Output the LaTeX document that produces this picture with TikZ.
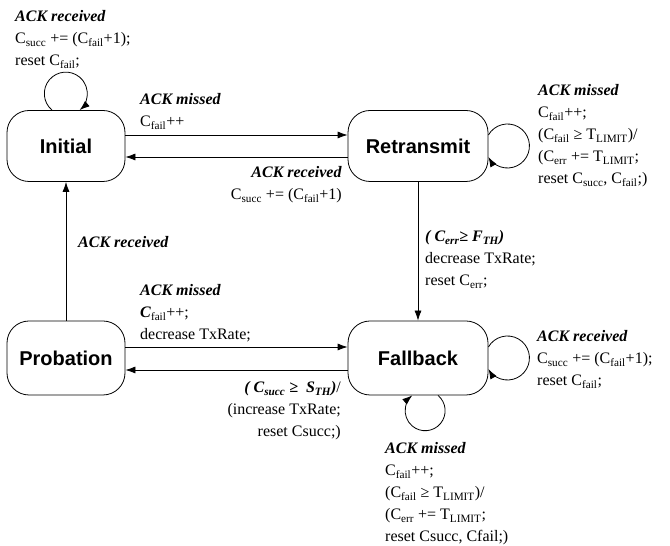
\documentclass[tikz,border=0pt]{standalone}
\usepackage{fontspec}
\setmainfont{Liberation Serif}
\newfontfamily\statefont{Liberation Sans}
\usetikzlibrary{arrows.meta}
\newcommand{\sbs}[1]{\textsubscript{#1}}
\newcommand{\ack}[1]{\textbf{\textit{#1}}}
\newcommand{\lines}[1]{\begin{tabular}[t]{@{}l@{}}#1\end{tabular}}
\newcommand{\rlines}[1]{\begin{tabular}[t]{@{}r@{}}#1\end{tabular}}
\begin{document}
\begin{tikzpicture}[x=1pt,y=1pt,
  state/.style={draw, line width=0.8pt, rounded corners=22pt, inner sep=0pt,
    font=\statefont\bfseries\fontsize{20}{24}\selectfont},
  lbl/.style={inner sep=0pt, font=\fontsize{16}{22}\selectfont, anchor=base west},
  lblr/.style={inner sep=0pt, font=\fontsize{16}{22}\selectfont, anchor=base east},
  edge/.style={draw, line width=0.8pt, -{Latex[length=10pt,width=7pt]}}]
\useasboundingbox (0,0) rectangle (670,546);

\node[state, minimum width=118pt, minimum height=71pt] (I) at (66,400) {Initial};
\node[state, minimum width=140pt, minimum height=71pt] (R) at (418,400) {Retransmit};
\node[state, minimum width=118pt, minimum height=74pt] (P) at (66,188) {Probation};
\node[state, minimum width=140pt, minimum height=74pt] (F) at (418,188) {Fallback};

% straight transitions
\draw[edge] ([yshift=11pt]I.east) -- ([yshift=11pt]R.west);
\draw[edge] ([yshift=-11pt]R.west) -- ([yshift=-11pt]I.east);
\draw[edge] ([yshift=11pt]P.east) -- ([yshift=11pt]F.west);
\draw[edge] ([yshift=-12pt]F.west) -- ([yshift=-12pt]P.east);
\draw[edge] (R.south) -- (F.north);
\draw[edge] (P.north) -- (I.south);

% self loops
\draw[edge] ([xshift=-14pt]I.north) arc[start angle=230, end angle=-50, radius=21.5pt];
\draw[edge] ([yshift=11pt]R.east) arc[start angle=150, end angle=-150, radius=22pt];
\draw[edge] ([yshift=11pt]F.east) arc[start angle=150, end angle=-150, radius=22pt];
\draw[edge] ([xshift=20pt]F.south) arc[start angle=50, end angle=-230, radius=20pt];

% labels
\node[lbl] (l1) at (15,524) {\lines{\ack{ACK received}\\ C\sbs{succ} += (C\sbs{fail}+1);\\ reset C\sbs{fail};}};
\node[lbl] (l2) at (140,441) {\lines{\ack{ACK missed}\\ C\sbs{fail}++}};
\node[lblr] (l3) at (342,368) {\rlines{\ack{ACK received}\\ C\sbs{succ} += (C\sbs{fail}+1)}};
\node[lbl] (l4) at (538,450) {\lines{\ack{ACK missed}\\ C\sbs{fail}++;\\ (C\sbs{fail} ≥ T\sbs{LIMIT})/\\ (C\sbs{err} += T\sbs{LIMIT};\\ reset C\sbs{succ}, C\sbs{fail};)}};
\node[lbl] (l5) at (425,304) {\lines{\ack{( C\sbs{err}≥ F\sbs{TH})}\\ decrease TxRate;\\ reset C\sbs{err};}};
\node[lbl] (l6) at (78,298) {\ack{ACK received}};
\node[lbl] (l7) at (140,250) {\lines{\ack{ACK missed}\\ \ack{C}\sbs{fail}++;\\ decrease TxRate;}};
\node[lblr] (l8) at (341,153) {\rlines{\ack{( C\sbs{succ} ≥ \ S\sbs{TH})}/\\ (increase TxRate;\\ reset Csucc;)}};
\node[lbl] (l9) at (537,204) {\lines{\ack{ACK received}\\ C\sbs{succ} += (C\sbs{fail}+1);\\ reset C\sbs{fail};}};
\node[lbl] (l10) at (385,92) {\lines{\ack{ACK missed}\\ C\sbs{fail}++;\\ (C\sbs{fail} ≥ T\sbs{LIMIT})/\\ (C\sbs{err} += T\sbs{LIMIT};\\ reset Csucc, Cfail;)}};
\end{tikzpicture}
\end{document}
